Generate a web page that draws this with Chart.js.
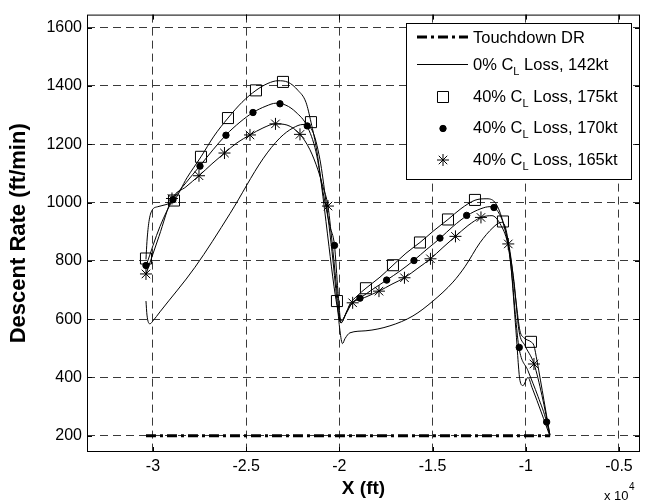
<!DOCTYPE html>
<html lang="en">
<head>
  <meta charset="UTF-8" />
  <title>Descent Rate vs X</title>
  <script src="https://cdn.jsdelivr.net/npm/chart.js"></script>
  <style>
    body { margin: 0; background: #fff; }
    #wrap { width: 660px; height: 502px; }
  </style>
</head>
<body>
  <div id="wrap"><canvas id="descentChart" width="660" height="502"></canvas></div>

  <script>
    // axis ticks (X in ft, labelled in units of 1e4)
    const xTicks = [-30000, -25000, -20000, -15000, -10000, -5000];
    const yTicks = [200, 400, 600, 800, 1000, 1200, 1400, 1600];

    // Touchdown DR
    const touchdownX = [-30376, -8701];
    const touchdownY = [200, 200];

    // 0% CL loss, 142kt
    const base142X = [-30376, -30322, -30161, -30000, -29624, -27747, -25869, -24099, -23186, -22489,
      -21952, -21470, -21040, -20718, -20397, -20129, -19968, -19833, -19699, -19431,
      -18573, -17285, -16051, -14978, -13905, -13261, -12457, -11759, -11330, -11062,
      -10793, -10525, -10311, -10150, -9881, -9667, -9399, -8701];
    const base142Y = [662, 614, 584, 594, 625, 778, 962, 1150, 1222, 1256,
      1268, 1249, 1147, 1003, 833, 662, 560, 516, 533, 553,
      560, 577, 611, 662, 727, 780, 862, 914, 932, 908,
      782, 560, 390, 372, 400, 366, 321, 198];

    // 40% CL loss, 175kt
    const line175X = [-30376, -30322, -30215, -30054, -29732, -29303, -28873, -28176, -27425, -26727,
      -25976, -25225, -24474, -23830, -23294, -22757, -22221, -21792, -21523, -21201,
      -20880, -20558, -20289, -20075, -19914, -19699, -19431, -19055, -18573, -17822,
      -17124, -16427, -15676, -14925, -14173, -13476, -12725, -12081, -11598, -11223,
      -10847, -10525, -10311, -10096, -9720, -9560, -9399, -9023, -8701];
    const line175Y = [805, 867, 935, 973, 986, 993, 1007, 1085, 1157, 1228,
      1290, 1344, 1385, 1409, 1418, 1413, 1385, 1344, 1276, 1174,
      1020, 850, 713, 628, 587, 611, 652, 679, 706, 744,
      785, 826, 863, 904, 942, 979, 1008, 1013, 996, 935,
      833, 662, 560, 536, 522, 509, 458, 321, 202];
    const mark175X = [-30376, -28873, -27425, -25976, -24474, -23025, -21523, -20129,
      -18573, -17124, -15676, -14173, -12725, -11223, -9720];
    const mark175Y = [808, 1007, 1157, 1290, 1385, 1414, 1276, 662,
      706, 785, 863, 942, 1009, 935, 522];

    // 40% CL loss, 170kt
    const line170X = [-30376, -29624, -28927, -28230, -27478, -26781, -26084, -25332, -24635, -23937,
      -23401, -22865, -22328, -21738, -21255, -20880, -20504, -20262, -20075, -19914,
      -19646, -19324, -18894, -18197, -17462, -16748, -15997, -15300, -14603, -13905,
      -13154, -12403, -11920, -11491, -11116, -10793, -10525, -10364, -9881, -9345,
      -8878, -8755];
    const line170Y = [782, 918, 1010, 1068, 1126, 1181, 1232, 1276, 1309, 1331,
      1341, 1334, 1310, 1263, 1174, 1037, 918, 853, 696, 594,
      618, 655, 672, 703, 734, 765, 802, 840, 877, 918,
      955, 979, 986, 969, 908, 782, 594, 502, 423, 335,
      247, 212];
    const mark170X = [-30376, -28927, -27478, -26084, -24635, -23186, -21722, -20262,
      -18894, -17462, -15997, -14603, -13170, -11705, -10348, -8878];
    const mark170Y = [784, 1010, 1125, 1231, 1309, 1339, 1263, 853,
      672, 734, 801, 878, 956, 983, 503, 247];

    // 40% CL loss, 165kt
    const line165X = [-30376, -29678, -28981, -28230, -27532, -26835, -26164, -25493, -24796, -24099,
      -23428, -22811, -22113, -21577, -21148, -20880, -20611, -20343, -20129, -19914,
      -19592, -19286, -18573, -17875, -17178, -16507, -15783, -15112, -14442, -13771,
      -13100, -12403, -11812, -11384, -10955, -10633, -10364, -10042, -9560, -9130,
      -8701];
    const line165Y = [754, 884, 1013, 1054, 1092, 1133, 1170, 1205, 1232, 1256,
      1270, 1266, 1234, 1181, 1112, 1054, 988, 833, 696, 587,
      628, 656, 676, 696, 720, 742, 775, 807, 846, 884,
      921, 949, 955, 928, 857, 730, 560, 509, 447, 338,
      202];
    const mark165X = [-30376, -28981, -27532, -26164, -24796, -23428, -22113, -20611,
      -19286, -17875, -16507, -15112, -13771, -12403, -10938, -9560];
    const mark165Y = [755, 1014, 1092, 1170, 1232, 1270, 1234, 988,
      656, 696, 742, 807, 884, 949, 858, 446];

    const FONT = '"Liberation Sans", Arial, Helvetica, sans-serif';
    Chart.defaults.font.family = FONT;
    Chart.defaults.color = '#000';

    function pts(xs, ys) {
      return xs.map((x, i) => ({ x: x, y: ys[i] }));
    }

    function curve(xs, ys) {
      return {
        data: pts(xs, ys),
        showLine: true,
        borderColor: '#000',
        borderWidth: 1,
        pointRadius: 0,
        cubicInterpolationMode: 'monotone'
      };
    }

    function markers(xs, ys, style, radius, fill) {
      return {
        data: pts(xs, ys),
        showLine: false,
        pointStyle: style,
        pointRadius: radius,
        pointBorderColor: '#000',
        pointBackgroundColor: fill,
        pointBorderWidth: 1
      };
    }

    const markerStyles = [
      { style: 'rect', radius: 7.8, fill: 'rgba(0,0,0,0)' },
      { style: 'circle', radius: 3.2, fill: '#000' },
      { style: 'star', radius: 6, fill: 'rgba(0,0,0,0)' }
    ];

    // frame with inward ticks, custom legend and the x10^4 multiplier
    const matlabFrame = {
      id: 'matlabFrame',
      afterDraw(chart) {
        const ctx = chart.ctx;
        const a = chart.chartArea;
        const xs = chart.scales.x, ys = chart.scales.y;
        ctx.save();
        ctx.strokeStyle = '#000';
        ctx.lineWidth = 1;
        ctx.setLineDash([]);
        ctx.beginPath();
        xTicks.forEach(v => {
          const p = Math.round(xs.getPixelForValue(v)) + 0.5;
          ctx.moveTo(p, a.bottom); ctx.lineTo(p, a.bottom - 5);
          ctx.moveTo(p, a.top); ctx.lineTo(p, a.top + 5);
        });
        yTicks.forEach(v => {
          const p = Math.round(ys.getPixelForValue(v)) + 0.5;
          ctx.moveTo(a.left, p); ctx.lineTo(a.left + 5, p);
          ctx.moveTo(a.right, p); ctx.lineTo(a.right - 5, p);
        });
        ctx.stroke();
        ctx.strokeRect(a.left + 0.5, a.top + 0.5, a.right - a.left - 1, a.bottom - a.top - 1);

        // legend
        const bx = 406, by = 23, bw = 225, bh = 156;
        ctx.fillStyle = '#fff';
        ctx.fillRect(bx, by, bw, bh);
        ctx.strokeRect(bx + 0.5, by + 0.5, bw, bh);

        const rows = [
          { y: 37, base: 43, kind: 'dashdot', pre: 'Touchdown DR' },
          { y: 64.5, base: 70, kind: 'line', pre: '0% C', sub: 'L', post: ' Loss, 142kt' },
          { y: 97, base: 102, kind: 0, pre: '40% C', sub: 'L', post: ' Loss, 175kt' },
          { y: 128.5, base: 133, kind: 1, pre: '40% C', sub: 'L', post: ' Loss, 170kt' },
          { y: 160, base: 165, kind: 2, pre: '40% C', sub: 'L', post: ' Loss, 165kt' }
        ];
        rows.forEach(r => {
          ctx.fillStyle = '#000';
          if (r.kind === 'dashdot' || r.kind === 'line') {
            ctx.beginPath();
            ctx.lineWidth = r.kind === 'dashdot' ? 3 : 1;
            ctx.setLineDash(r.kind === 'dashdot' ? [10, 4, 3, 4] : []);
            ctx.moveTo(417, r.y); ctx.lineTo(468, r.y);
            ctx.stroke();
            ctx.setLineDash([]);
            ctx.lineWidth = 1;
          } else {
            const m = markerStyles[r.kind];
            ctx.fillStyle = m.fill;
            Chart.helpers.drawPoint(ctx, { pointStyle: m.style, radius: m.radius, rotation: 0, borderWidth: 1 }, 443, r.y);
            ctx.fillStyle = '#000';
          }
          let x = 473;
          ctx.textBaseline = 'alphabetic';
          ctx.textAlign = 'left';
          ctx.font = '16.5px ' + FONT;
          ctx.fillText(r.pre, x, r.base);
          x += ctx.measureText(r.pre).width;
          if (r.sub) {
            ctx.font = '11px ' + FONT;
            ctx.fillText(r.sub, x, r.base + 5);
            x += ctx.measureText(r.sub).width;
            ctx.font = '16.5px ' + FONT;
            ctx.fillText(r.post, x, r.base);
          }
        });

        // exponent label
        ctx.font = '13px ' + FONT;
        ctx.fillText('x 10', 604, 500);
        ctx.font = '10px ' + FONT;
        ctx.fillText('4', 629, 490);
        ctx.restore();
      }
    };

    const datasets = [
      Object.assign(curve(touchdownX, touchdownY), { borderWidth: 3, borderDash: [10, 4, 3, 4], cubicInterpolationMode: 'default' }),
      curve(base142X, base142Y),
      curve(line175X, line175Y),
      curve(line170X, line170Y),
      curve(line165X, line165Y),
      markers(mark175X, mark175Y, markerStyles[0].style, markerStyles[0].radius, markerStyles[0].fill),
      markers(mark170X, mark170Y, markerStyles[1].style, markerStyles[1].radius, markerStyles[1].fill),
      markers(mark165X, mark165Y, markerStyles[2].style, markerStyles[2].radius, markerStyles[2].fill)
    ];

    new Chart(document.getElementById('descentChart'), {
      type: 'scatter',
      data: { datasets },
      plugins: [matlabFrame],
      options: {
        responsive: false,
        animation: false,
        layout: { padding: { top: 12, right: 20, bottom: 0, left: 0 } },
        plugins: {
          legend: { display: false },
          tooltip: { enabled: false }
        },
        scales: {
          x: {
            type: 'linear',
            min: -33540,
            max: -3870,
            afterBuildTicks: s => { s.ticks = xTicks.map(v => ({ value: v })); },
            afterFit: s => { s.height = 50; },
            grid: { color: '#3a3a3a', lineWidth: 1, drawTicks: false, borderDash: [8, 5] },
            border: { display: false, dash: [8, 5] },
            ticks: {
              font: { size: 16 },
              padding: 5,
              maxRotation: 0,
              autoSkip: false,
              callback: v => String(v / 10000)
            },
            title: {
              display: true,
              text: 'X (ft)',
              font: { size: 19, weight: 'bold' },
              padding: { top: 0, bottom: 2 }
            }
          },
          y: {
            type: 'linear',
            min: 144,
            max: 1645,
            afterBuildTicks: s => { s.ticks = yTicks.map(v => ({ value: v })); },
            afterFit: s => { s.width = 87; },
            grid: { color: '#3a3a3a', lineWidth: 1, drawTicks: false, borderDash: [8, 5] },
            border: { display: false, dash: [8, 5] },
            ticks: {
              font: { size: 16 },
              padding: 5,
              autoSkip: false,
              callback: v => String(v)
            },
            title: {
              display: true,
              text: 'Descent Rate (ft/min)',
              font: { size: 22, weight: 'bold' },
              padding: { top: 6, bottom: 0 }
            }
          }
        }
      }
    });
  </script>
</body>
</html>
